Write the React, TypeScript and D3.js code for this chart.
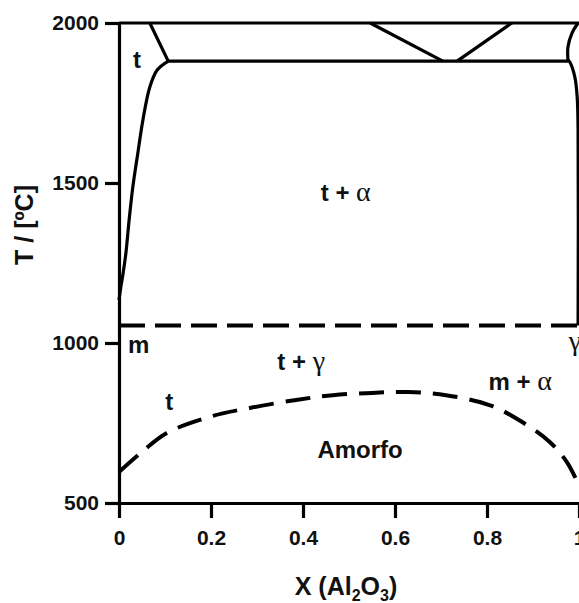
import { useEffect, useRef } from "react";
import * as d3 from "d3";

// ── Data (x = mole fraction Al2O3, T in °C) ─────────────────────────────────

const X_TICKS = [0, 0.2, 0.4, 0.6, 0.8, 1];
const T_TICKS = [500, 1000, 1500, 2000];

const EUTECTIC_T = 1881;
const METASTABLE_T = 1055;

// t / t+α boundary on the zirconia side
const leftSolvus: [number, number][] = [
  [0.107, 1881], [0.083, 1853], [0.067, 1800], [0.052, 1697], [0.041, 1594],
  [0.03, 1487], [0.022, 1384], [0.015, 1281], [0.009, 1219], [0.004, 1175], [0, 1134],
];
const leftLiquidus: [number, number][] = [[0.067, 2000], [0.107, 1881]];
const vLeft: [number, number][] = [[0.546, 2000], [0.704, 1881]];
const vRight: [number, number][] = [[0.735, 1881], [0.854, 2000]];
const rightUpper: [number, number][] = [
  [0.998, 2000], [0.985, 1969], [0.976, 1925], [0.976, 1884],
];
const rightLower: [number, number][] = [
  [0.976, 1884], [0.98, 1878], [0.991, 1831], [0.996, 1769], [0.998, 1666], [0.998, METASTABLE_T],
];
// glass-transition (amorphous) boundary
const amorphous: [number, number][] = [
  [0, 597], [0.05, 660], [0.104, 719], [0.204, 772], [0.285, 797], [0.385, 822],
  [0.465, 837], [0.55, 844], [0.628, 847], [0.711, 837], [0.807, 805], [0.872, 757],
  [0.937, 690], [0.974, 627], [1.0, 555],
];

const labels = [
  { x: 0.039, t: 1859, main: "t", greek: "" },
  { x: 0.493, t: 1444, main: "t + ", greek: "α" },
  { x: 0.043, t: 969, main: "m", greek: "" },
  { x: 0.396, t: 916, main: "t + ", greek: "γ" },
  { x: 0.109, t: 791, main: "t", greek: "" },
  { x: 0.872, t: 853, main: "m + ", greek: "α" },
  { x: 0.524, t: 641, main: "Amorfo", greek: "" },
  { x: 0.991, t: 978, main: "", greek: "γ" },
];

// ── Layout ────────────────────────────────────────────────────────────────────

const W = 579;
const H = 603;
const X0 = 119;
const X1 = 579;
const Y_TOP = 23;
const Y_BOT = 503;
const FONT = "'Liberation Sans', Arial, sans-serif";
const GREEK = "'Liberation Serif', 'Times New Roman', serif";

export default function App() {
  const axesRef = useRef<SVGGElement>(null);

  const x = d3.scaleLinear().domain([0, 1]).range([X0, X1]);
  const y = d3.scaleLinear().domain([500, 2000]).range([Y_BOT, Y_TOP]);

  const smooth = d3
    .line<[number, number]>()
    .x((d) => x(d[0]))
    .y((d) => y(d[1]))
    .curve(d3.curveCatmullRom.alpha(0.5));
  const straight = d3
    .line<[number, number]>()
    .x((d) => x(d[0]))
    .y((d) => y(d[1]));

  useEffect(() => {
    if (!axesRef.current) return;
    const g = d3.select(axesRef.current);
    g.selectAll("*").remove();

    const style = (ag: d3.Selection<SVGGElement, unknown, null, undefined>) => {
      ag.selectAll("line, path").attr("stroke", "#000").attr("stroke-width", 3.2);
      ag.selectAll("text")
        .attr("font-size", 21)
        .attr("font-weight", "bold")
        .attr("font-family", FONT)
        .attr("fill", "#111");
    };

    g.append("g")
      .attr("transform", `translate(0,${Y_BOT})`)
      .call(
        d3.axisBottom(x)
          .tickValues(X_TICKS)
          .tickSize(15)
          .tickSizeOuter(0)
          .tickPadding(12)
          .tickFormat((d) => d3.format("~g")(d as number))
      )
      .call(style);

    g.append("g")
      .attr("transform", `translate(${X0},0)`)
      .call(
        d3.axisLeft(y)
          .tickValues(T_TICKS)
          .tickSize(14)
          .tickSizeOuter(0)
          .tickPadding(6)
          .tickFormat((d) => String(d))
      )
      .call(style);
  }, []);

  const solid = { fill: "none", stroke: "#000", strokeWidth: 3.2 };

  return (
    <div style={{ position: "fixed", left: 0, top: 0, width: W, height: H, overflow: "hidden", background: "#fff" }}>
      <svg width={W} height={H} style={{ display: "block" }}>
        {/* top boundary at 2000 °C */}
        <line x1={X0} x2={X1} y1={y(2000)} y2={y(2000)} stroke="#000" strokeWidth={3.2} />
        {/* eutectic line */}
        <line x1={x(0.107)} x2={x(0.976)} y1={y(EUTECTIC_T)} y2={y(EUTECTIC_T)} stroke="#000" strokeWidth={3.2} />
        <path d={straight(leftLiquidus) ?? ""} {...solid} />
        <path d={smooth(leftSolvus) ?? ""} {...solid} />
        <path d={straight(vLeft) ?? ""} {...solid} />
        <path d={straight(vRight) ?? ""} {...solid} />
        <path d={smooth(rightUpper) ?? ""} {...solid} />
        <path d={smooth(rightLower) ?? ""} {...solid} />

        {/* metastable horizontal */}
        <line
          x1={X0}
          x2={X1}
          y1={y(METASTABLE_T)}
          y2={y(METASTABLE_T)}
          stroke="#000"
          strokeWidth={4}
          strokeDasharray="26,10"
        />
        {/* amorphous boundary */}
        <path d={smooth(amorphous) ?? ""} fill="none" stroke="#000" strokeWidth={4} strokeDasharray="25,12" />

        <g ref={axesRef} />

        {/* phase-field labels */}
        {labels.map((l, i) => (
          <text
            key={i}
            x={x(l.x)}
            y={y(l.t)}
            textAnchor="middle"
            fontFamily={FONT}
            fontWeight="bold"
            fontSize={24}
            fill="#111"
          >
            {l.main}
            {l.greek && (
              <tspan fontFamily={GREEK} fontWeight="normal" fontSize={28}>
                {l.greek}
              </tspan>
            )}
          </text>
        ))}

        {/* axis titles */}
        <text
          transform="translate(33,225) rotate(-90)"
          textAnchor="middle"
          fontFamily={FONT}
          fontWeight="bold"
          fontSize={25}
          fill="#111"
        >
          T / [ºC]
        </text>
        <text x={346} y={595} textAnchor="middle" fontFamily={FONT} fontWeight="bold" fontSize={25} fill="#111">
          X (Al
          <tspan fontSize={16} dy={6}>2</tspan>
          <tspan dy={-6}>O</tspan>
          <tspan fontSize={16} dy={6}>3</tspan>
          <tspan dy={-6}>)</tspan>
        </text>
      </svg>
    </div>
  );
}
